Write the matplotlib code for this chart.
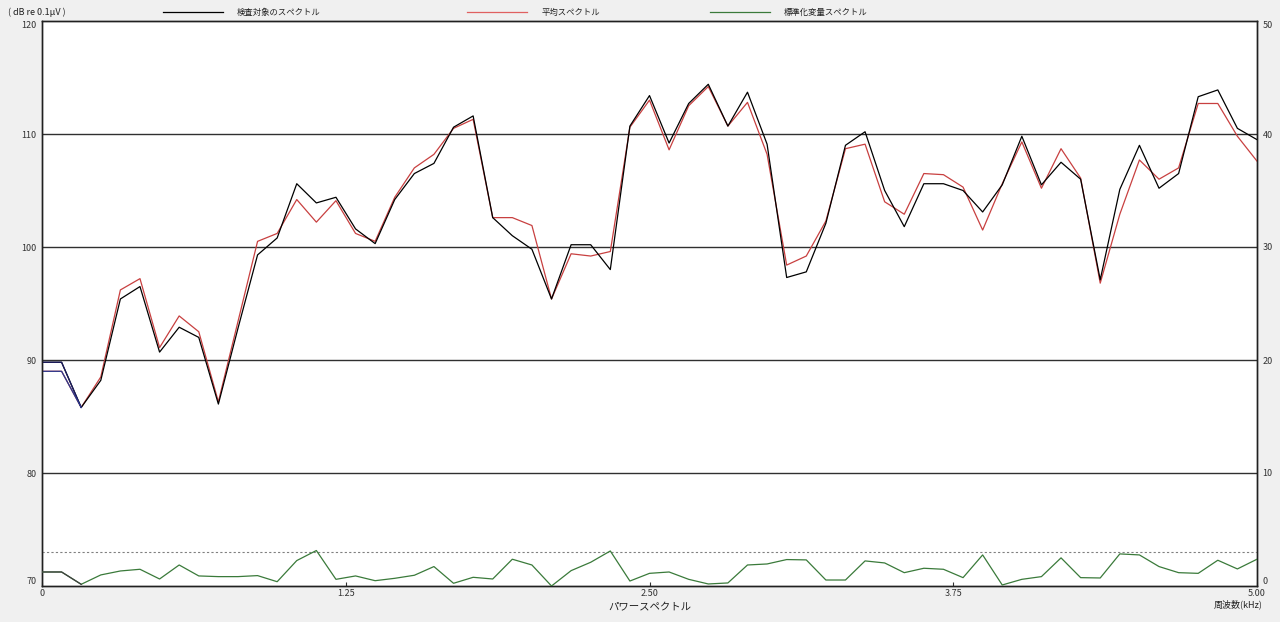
# Power spectrum chart: target / average spectrum (left axis) and normalized variance (right axis)
import numpy as np
import matplotlib
matplotlib.use("Agg")
from matplotlib import pyplot as plt
from matplotlib.lines import Line2D

plt.rcParams["font.family"] = ["Noto Sans CJK JP", "DejaVu Sans"]

# frequency bins (kHz), 63 points from 0 to 5 kHz
freqs = np.linspace(0, 5, 63)

# 検査対象のスペクトル (dB re 0.1uV)
target = [89.8, 89.8, 85.8, 88.2, 95.4, 96.5, 90.7, 92.9, 92.0, 86.1,
          92.8, 99.3, 100.8, 105.6, 103.9, 104.4, 101.6, 100.3, 104.2, 106.5,
          107.4, 110.6, 111.6, 102.6, 101.0, 99.8, 95.4, 100.2, 100.2, 98.0,
          110.7, 113.4, 109.2, 112.7, 114.4, 110.7, 113.7, 109.1, 97.3, 97.8,
          102.1, 109.0, 110.2, 105.0, 101.8, 105.6, 105.6, 105.0, 103.1, 105.5,
          109.8, 105.5, 107.5, 106.0, 97.1, 105.1, 109.0, 105.2, 106.5, 113.3,
          113.9, 110.5, 109.5]

# 平均スペクトル
average = [89.0, 89.0, 85.8, 88.5, 96.2, 97.2, 91.1, 93.9, 92.5, 86.3,
           93.4, 100.5, 101.2, 104.2, 102.2, 104.1, 101.2, 100.5, 104.4, 107.0,
           108.2, 110.5, 111.3, 102.6, 102.6, 101.9, 95.4, 99.4, 99.2, 99.6,
           110.6, 113.0, 108.6, 112.5, 114.2, 110.7, 112.8, 108.2, 98.4, 99.2,
           102.3, 108.7, 109.1, 104.0, 102.9, 106.5, 106.4, 105.3, 101.5, 105.6,
           109.3, 105.2, 108.7, 106.1, 96.8, 102.9, 107.7, 106.0, 107.0, 112.7,
           112.7, 109.8, 107.6]

# 標準化変量スペクトル (right axis)
variance = [1.24, 1.24, 0.15, 0.98, 1.33, 1.48, 0.62, 1.86, 0.89, 0.83,
            0.83, 0.92, 0.38, 2.25, 3.14, 0.59, 0.89, 0.47, 0.68, 0.95,
            1.72, 0.24, 0.77, 0.62, 2.37, 1.86, 0.0, 1.36, 2.10, 3.10,
            0.44, 1.12, 1.24, 0.59, 0.18, 0.27, 1.86, 1.95, 2.34, 2.31,
            0.53, 0.53, 2.22, 2.04, 1.18, 1.57, 1.48, 0.74, 2.75, 0.09,
            0.59, 0.83, 2.49, 0.74, 0.71, 2.84, 2.75, 1.72, 1.18, 1.12,
            2.28, 1.51, 2.37]

threshold = 3.0

left_ticks = [70, 80, 90, 100, 110, 120]
right_ticks = [0, 10, 20, 30, 40, 50]
x_ticks = [0, 1.25, 2.5, 3.75, 5.0]
x_ticklabels = ["0", "1.25", "2.50", "3.75", "5.00"]

W, H = 1280, 622
fig = plt.figure(figsize=(W / 100, H / 100), dpi=100, facecolor="#f0f0f0")
ax = fig.add_axes([42 / W, 36 / H, 1215 / W, 565 / H])
ax.set_facecolor("white")
ax.set_xlim(0, 5)
ax.set_ylim(70, 120)

for v in [80, 90, 100, 110]:
    ax.axhline(v, color="#303030", lw=1.0, zorder=1)

ax.plot(freqs, target, color="black", lw=0.9, zorder=4)
ax.plot(freqs, average, color="#c84040", lw=0.9, zorder=3)
# highlighted first segment
ax.plot(freqs[:3], target[:3], color="#1a1a60", lw=0.9, zorder=5)
ax.plot(freqs[:3], average[:3], color="#2a3a90", lw=0.9, zorder=5)

ax2 = ax.twinx()
ax2.set_ylim(0, 50)
ax2.plot(freqs, variance, color="#3a7a3a", lw=0.9, zorder=3)
ax2.plot(freqs[:3], variance[:3], color="#404040", lw=0.9, zorder=4)
ax2.axhline(threshold, color="#808080", lw=0.8, ls=(0, (2, 2)), zorder=2)

tick_color = "#333333"
ax.set_yticks(left_ticks)
ax.set_yticklabels([str(t) for t in left_ticks])
ax.tick_params(axis="y", length=0, pad=4, labelsize=6.5, labelcolor=tick_color)
ax.set_xticks(x_ticks)
ax.set_xticklabels(x_ticklabels)
ax.tick_params(axis="x", direction="in", length=3, pad=2, labelsize=6.5,
               labelcolor=tick_color, color="#333333")
ax2.set_yticks(right_ticks)
ax2.set_yticklabels([str(t) for t in right_ticks])
ax2.tick_params(axis="y", length=0, pad=4, labelsize=6.5, labelcolor=tick_color)

# keep the end labels inside the plot frame
ax.get_yticklabels()[0].set_va("bottom")
ax.get_yticklabels()[-1].set_va("top")
ax2.get_yticklabels()[0].set_va("bottom")
ax2.get_yticklabels()[-1].set_va("top")

for a in (ax, ax2):
    for s in a.spines.values():
        s.set_color("#202020")
        s.set_linewidth(1.0)

# header: unit and legend row
fig.text(8 / W, 1 - 12 / H, "( dB re 0.1μV )", fontsize=6.5, color="#222222",
         va="center", ha="left")
legend_items = [("検査対象のスペクトル", "black", 163, 237),
                ("平均スペクトル", "#e06060", 467, 542),
                ("標準化変量スペクトル", "#3a7a3a", 710, 784)]
for label, col, x0, xt in legend_items:
    fig.add_artist(Line2D([x0 / W, (x0 + 60) / W], [1 - 12 / H, 1 - 12 / H],
                          color=col, lw=0.9, transform=fig.transFigure))
    fig.text(xt / W, 1 - 12 / H, label, fontsize=6, color="#222222",
             va="center", ha="left")

fig.text(650 / W, 1 - 607 / H, "パワースペクトル", fontsize=7.5, color="#222222",
         va="center", ha="center")
fig.text(1263 / W, 1 - 604 / H, "周波数(kHz)", fontsize=6.5, color="#222222",
         va="center", ha="right")

fig.savefig("out.png", dpi=100, facecolor=fig.get_facecolor())
